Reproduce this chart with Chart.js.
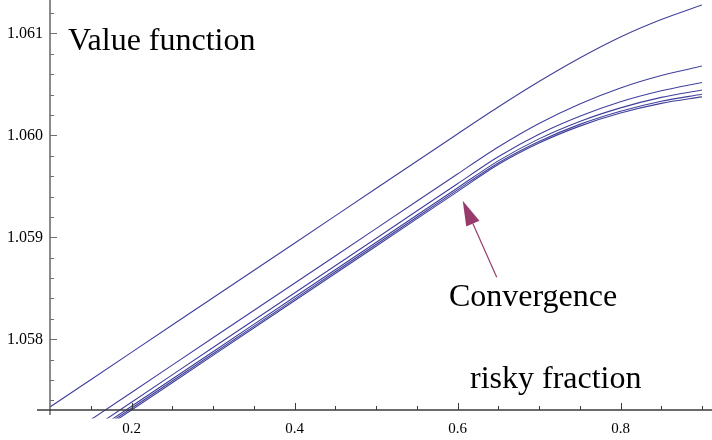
<!DOCTYPE html>
<html>
<head>
<meta charset="utf-8">
<script src="https://cdn.jsdelivr.net/npm/chart.js@4.4.1/dist/chart.umd.min.js"></script>
<style>
  body { margin: 0; background: #fff; }
  #valor { display: block; }
</style>
</head>
<body>
<canvas id="valor" width="712" height="440"></canvas>
<script>
// risky fraction on the x axis
var fracoes = [0.1, 0.2, 0.3, 0.4, 0.5, 0.6, 0.65, 0.7, 0.75, 0.8, 0.85, 0.9];

// value function, one array per iteration
var iter1 = [1.057336, 1.057872, 1.058407, 1.058942, 1.059478, 1.060013, 1.060277, 1.060527, 1.060758, 1.060964, 1.061135, 1.061278];
var iter2 = [1.056944, 1.057479, 1.058015, 1.058550, 1.059085, 1.059621, 1.059885, 1.060116, 1.060307, 1.060464, 1.060586, 1.060679];
var iter3 = [1.056848, 1.057383, 1.057919, 1.058454, 1.058989, 1.059525, 1.059789, 1.060010, 1.060186, 1.060328, 1.060436, 1.060518];
var iter4 = [1.056808, 1.057343, 1.057878, 1.058414, 1.058949, 1.059484, 1.059749, 1.059965, 1.060136, 1.060269, 1.060372, 1.060444];
var iter5 = [1.056788, 1.057324, 1.057859, 1.058394, 1.058929, 1.059465, 1.059729, 1.059940, 1.060107, 1.060236, 1.060334, 1.060402];
var iter6 = [1.056772, 1.057307, 1.057842, 1.058378, 1.058913, 1.059448, 1.059713, 1.059924, 1.060090, 1.060218, 1.060313, 1.060377];

// tick labels
var xTickLabels = ['0.2', '0.4', '0.6', '0.8'];
var yTickLabels = ['1.058', '1.059', '1.060', '1.061'];

var series = [iter1, iter2, iter3, iter4, iter5, iter6];
var xMajor = xTickLabels.map(Number);
var yMajor = yTickLabels.map(Number);

// minor ticks every 0.05 (x) and 0.0002 (y)
var xTicks = [];
for (var i = 0; i <= 15; i++) xTicks.push(+(0.15 + i * 0.05).toFixed(2));
var yTicks = [];
for (var j = 0; j <= 19; j++) yTicks.push(+(1.0574 + j * 0.0002).toFixed(4));

var fonte = "'Liberation Serif', 'Times New Roman', serif";
var corLinha = '#40409c';
var corSeta = '#973b6d';

function ehMaior(lista, v) {
  return lista.findIndex(function(m) { return Math.abs(m - v) < 1e-7; });
}

// axes drawn Mathematica style (ticks pointing inwards) + text labels and arrow
var eixos = {
  id: 'eixos',
  afterDatasetsDraw: function(chart) {
    var ctx = chart.ctx;
    var xs = chart.scales.x, ys = chart.scales.y;
    var ax = xs.getPixelForValue(0.1);
    var ay = ys.getPixelForValue(1.057307);
    ctx.save();

    // y axis
    ctx.strokeStyle = '#6e6e6e';
    ctx.lineWidth = 1.6;
    ctx.beginPath();
    ctx.moveTo(ax, 0);
    ctx.lineTo(ax, ys.getPixelForValue(1.057258));
    ctx.stroke();
    yTicks.forEach(function(v) {
      var py = Math.round(ys.getPixelForValue(v)) + 0.5;
      var len = ehMaior(yMajor, v) >= 0 ? 7 : 4;
      ctx.lineWidth = 1;
      ctx.beginPath();
      ctx.moveTo(ax, py);
      ctx.lineTo(ax + len, py);
      ctx.stroke();
    });

    // x axis
    ctx.strokeStyle = '#3a3a3a';
    ctx.lineWidth = 1.4;
    ctx.beginPath();
    ctx.moveTo(xs.getPixelForValue(0.084), ay);
    ctx.lineTo(chart.width, ay);
    ctx.stroke();
    xTicks.forEach(function(v) {
      var px = Math.round(xs.getPixelForValue(v)) + 0.5;
      var len = ehMaior(xMajor, v) >= 0 ? 7 : 4;
      ctx.lineWidth = 1;
      ctx.beginPath();
      ctx.moveTo(px, ay);
      ctx.lineTo(px, ay - len);
      ctx.stroke();
    });

    // texts
    ctx.fillStyle = '#000';
    ctx.font = '32px ' + fonte;
    ctx.textBaseline = 'alphabetic';
    ctx.textAlign = 'left';
    ctx.fillText('Value function', xs.getPixelForValue(0.12209), ys.getPixelForValue(1.0608363));
    ctx.fillText('Convergence', xs.getPixelForValue(0.58957), ys.getPixelForValue(1.0583216));
    ctx.fillText('risky fraction', xs.getPixelForValue(0.61534), ys.getPixelForValue(1.0575196));

    // arrow
    var tx = xs.getPixelForValue(0.60638), ty = ys.getPixelForValue(1.0593588);
    var sx = xs.getPixelForValue(0.64810), sy = ys.getPixelForValue(1.0586078);
    var ang = Math.atan2(ty - sy, tx - sx);
    var hl = 25, hw = 7.2;
    var bx = tx - hl * Math.cos(ang), by = ty - hl * Math.sin(ang);
    ctx.strokeStyle = corSeta;
    ctx.fillStyle = corSeta;
    ctx.lineWidth = 1.2;
    ctx.beginPath();
    ctx.moveTo(sx, sy);
    ctx.lineTo(bx, by);
    ctx.stroke();
    ctx.beginPath();
    ctx.moveTo(tx, ty);
    ctx.lineTo(bx + hw * Math.sin(ang), by - hw * Math.cos(ang));
    ctx.lineTo(bx - hw * Math.sin(ang), by + hw * Math.cos(ang));
    ctx.closePath();
    ctx.fill();

    ctx.restore();
  }
};

var ctx = document.getElementById('valor').getContext('2d');
var grafico = new Chart(ctx, {
  type: 'line',
  data: {
    datasets: series.map(function(s, k) {
      return {
        label: 'iteration ' + (k + 1),
        data: fracoes.map(function(x, i) { return { x: x, y: s[i] }; }),
        borderColor: corLinha,
        borderWidth: 1.1,
        pointRadius: 0,
        fill: false,
        tension: 0.3,
        clip: 0
      };
    })
  },
  options: {
    responsive: false,
    animation: false,
    layout: { padding: { left: 0, right: 10, top: 0, bottom: 0 } },
    plugins: { legend: { display: false }, tooltip: { enabled: false } },
    scales: {
      x: {
        type: 'linear',
        min: 0.1,
        max: 0.9,
        grid: { display: false, drawTicks: false },
        border: { display: false },
        afterBuildTicks: function(scale) {
          scale.ticks = xTicks.map(function(v) { return { value: v }; });
        },
        afterFit: function(scale) {
          scale.height = 21.5;
          scale.paddingLeft = 0;
          scale.paddingRight = 0;
        },
        ticks: {
          autoSkip: false,
          maxRotation: 0,
          padding: 2,
          color: '#000',
          font: { family: fonte, size: 15 },
          callback: function(value) {
            var i = ehMaior(xMajor, value);
            return i >= 0 ? xTickLabels[i] : '';
          }
        }
      },
      y: {
        type: 'linear',
        min: 1.0572235,
        max: 1.0613265,
        grid: { display: false, drawTicks: false },
        border: { display: false },
        afterBuildTicks: function(scale) {
          scale.ticks = yTicks.map(function(v) { return { value: v }; });
        },
        afterFit: function(scale) {
          scale.width = 50;
          scale.paddingTop = 0;
          scale.paddingBottom = 0;
        },
        ticks: {
          autoSkip: false,
          padding: 7,
          color: '#000',
          font: { family: fonte, size: 16 },
          callback: function(value) {
            var i = ehMaior(yMajor, value);
            return i >= 0 ? yTickLabels[i] : '';
          }
        }
      }
    }
  },
  plugins: [eixos]
});
</script>
</body>
</html>
